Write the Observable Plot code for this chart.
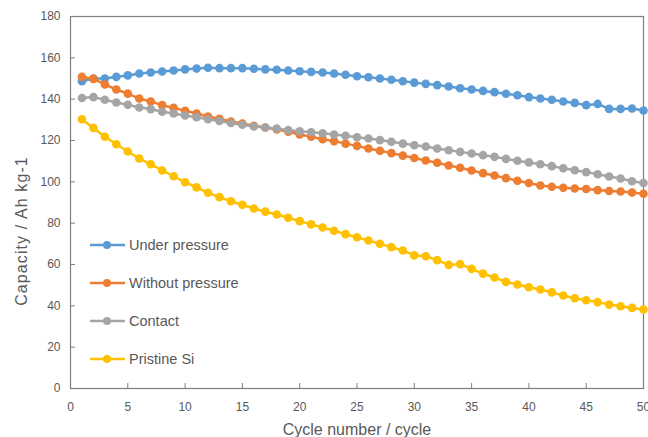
<!DOCTYPE html>
<html>
<head>
<meta charset="utf-8">
<script src="https://cdn.jsdelivr.net/npm/d3@7"></script>
<script src="https://cdn.jsdelivr.net/npm/@observablehq/plot@0.6"></script>
<style>
  html, body { margin: 0; padding: 0; background: #fff; }
  #wrap { position: relative; width: 648px; height: 437px; }
  #legend { position: absolute; left: 90px; top: 226px; font-family: "Liberation Sans", Arial, sans-serif; font-size: 14.5px; color: #595959; }
  #legend .row { display: flex; align-items: center; height: 38px; }
  #legend svg { margin-right: 3px; }
</style>
</head>
<body>
<div id="wrap"><div id="legend"></div></div>
<script>
const cycles = d3.range(1, 51);
const seriesNames = ["Under pressure", "Without pressure", "Contact", "Pristine Si"];
const seriesColors = ["#5B9BD5", "#ED7D31", "#A5A5A5", "#FFC000"];
const yTitle = "Capacity / Ah kg-1";
const xTitle = "Cycle number / cycle";

const underPressure = [148.7,150.0,150.0,150.8,151.5,152.4,152.9,153.4,153.9,154.4,
  154.8,155.2,155.0,155.0,155.0,154.7,154.4,154.2,153.9,153.5,
  153.2,152.9,152.4,151.8,151.1,150.6,150.0,149.4,148.7,148.0,
  147.4,146.8,146.1,145.3,144.7,144.0,143.4,142.6,141.9,141.0,
  140.3,139.7,138.9,138.2,137.1,137.7,135.3,135.3,135.5,134.5];
const withoutPressure = [150.8,149.8,147.1,144.7,142.7,140.3,138.9,137.1,135.8,134.4,
  133.1,131.6,130.5,129.2,128.2,127.1,126.3,125.3,124.2,122.9,
  121.8,120.6,119.7,118.5,117.4,116.1,115.0,113.9,112.7,111.5,
  110.3,109.2,107.9,106.8,105.5,104.2,103.1,101.8,100.5,99.4,
  98.2,97.6,97.1,96.8,96.5,96.0,95.6,95.3,94.8,94.2];
const contact = [140.6,141.0,139.7,138.4,137.3,136.0,135.2,133.9,133.1,132.1,
  131.3,130.3,129.4,128.5,127.6,126.8,126.3,125.8,125.0,124.5,
  124.0,123.5,122.9,122.3,121.6,121.0,120.2,119.4,118.5,117.7,
  117.1,116.1,115.3,114.5,113.7,112.9,112.1,111.1,110.2,109.4,
  108.5,107.6,106.6,105.6,104.7,103.7,102.6,101.6,100.3,99.4];
const pristineSi = [130.3,126.1,121.8,118.2,114.7,111.3,108.5,105.5,102.7,99.8,
  97.3,94.7,92.6,90.6,88.9,87.1,85.6,84.2,82.6,81.0,
  79.4,77.9,76.3,74.7,73.2,71.6,70.0,68.4,66.8,64.4,
  64.0,62.1,59.8,60.2,57.9,55.6,53.7,51.6,50.3,49.0,
  47.9,46.5,45.0,43.7,42.7,41.8,40.6,39.8,39.0,38.2];

const xTicks = [0,5,10,15,20,25,30,35,40,45,50];
const yTicks = [0,20,40,60,80,100,120,140,160,180];

const allValues = [underPressure, withoutPressure, contact, pristineSi];
const data = [];
allValues.forEach((vals, i) => vals.forEach((v, j) => data.push({cycle: cycles[j], capacity: v, series: seriesNames[i]})));

const colorScale = {domain: seriesNames, range: seriesColors};

const chart = Plot.plot({
  width: 648,
  height: 437,
  marginLeft: 70,
  marginRight: 5,
  marginTop: 16,
  marginBottom: 49,
  style: {fontFamily: "Liberation Sans, Arial, sans-serif", background: "#fff"},
  x: {domain: [0, 50], ticks: xTicks},
  y: {domain: [0, 180], ticks: yTicks},
  color: colorScale,
  marks: [
    Plot.frame({stroke: "#7f7f7f", strokeWidth: 1.2}),
    Plot.axisX({ticks: xTicks, tickSize: -5, tickPadding: 19, stroke: "#7f7f7f", fill: "#595959", fontSize: 12,
      label: xTitle, labelAnchor: "center", labelArrow: "none", labelOffset: 46}),
    Plot.axisY({ticks: yTicks, tickSize: -5, tickPadding: 15, stroke: "#7f7f7f", fill: "#595959", fontSize: 12,
      label: null}),
    Plot.line(data, {x: "cycle", y: "capacity", z: "series", stroke: "series", strokeWidth: 2.5}),
    Plot.dot(data, {x: "cycle", y: "capacity", fill: "series", r: 4.3})
  ]
});

chart.querySelectorAll("[aria-label='x-axis label'] text").forEach(t => {
  t.setAttribute("font-size", "16");
  t.setAttribute("fill", "#595959");
});
d3.select(chart).append("text")
  .attr("transform", "translate(21,231) rotate(-90)")
  .attr("text-anchor", "middle")
  .attr("dy", "0.35em")
  .attr("font-family", "Liberation Sans, Arial, sans-serif")
  .attr("font-size", 16)
  .attr("letter-spacing", 1.1)
  .attr("fill", "#595959")
  .text(yTitle);
d3.select("#wrap").node().insertBefore(chart, document.getElementById("legend"));

const legend = d3.select("#legend");
seriesNames.forEach((name, i) => {
  const row = legend.append("div").attr("class", "row");
  const s = row.append("svg").attr("width", 36).attr("height", 12);
  s.append("line").attr("x1", 0).attr("x2", 35).attr("y1", 6).attr("y2", 6).attr("stroke", seriesColors[i]).attr("stroke-width", 2.5);
  s.append("circle").attr("cx", 17).attr("cy", 6).attr("r", 4).attr("fill", seriesColors[i]);
  row.append("span").text(name);
});
</script>
</body>
</html>
